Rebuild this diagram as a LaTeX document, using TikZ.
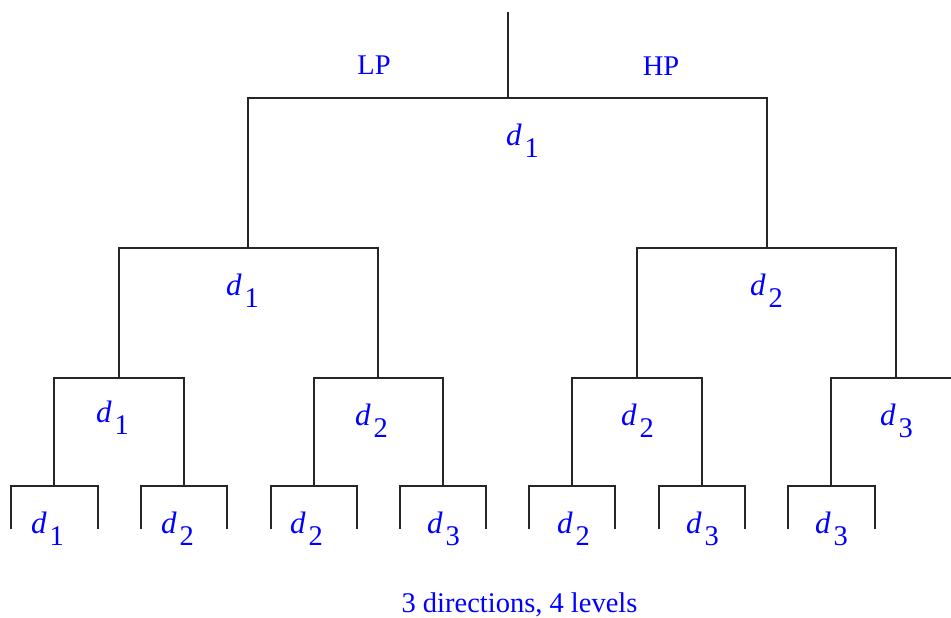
\documentclass[tikz,border=0pt]{standalone}
\usepackage{fontspec}
\setmainfont{Liberation Serif}
% d with a lowered subscript, as used for the direction labels
\newcommand{\dirlabel}[1]{{\fontsize{31}{34}\selectfont\itshape d}\kern3pt\raisebox{-12pt}{#1}}
\begin{document}
\begin{tikzpicture}[x=1pt,y=-1pt,
  branch/.style={draw=black!85, line width=1.1pt},
  txt/.style={text=blue, font=\fontsize{28.5}{32}\selectfont, inner sep=0pt},
  dlab/.style={txt, anchor=base west}]
\useasboundingbox (0,0) rectangle (951,618);

% junction points of the decomposition tree
\coordinate (top) at (508,12);
\coordinate (n0)  at (508,98);
\coordinate (nL)  at (248,248);
\coordinate (nR)  at (767,248);
\coordinate (nLL) at (119,378);
\coordinate (nLR) at (378,378);
\coordinate (nRL) at (637,378);
\coordinate (nRR) at (896,378);
\coordinate (m1) at (54,486);
\coordinate (m2) at (184,486);
\coordinate (m3) at (314,486);
\coordinate (m4) at (443,486);
\coordinate (m5) at (572,486);
\coordinate (m6) at (702,486);
\coordinate (m7) at (831,486);
\coordinate (edge) at (951,378);
% leaf ends
\coordinate (a1) at (11,529);  \coordinate (b1) at (98,529);
\coordinate (a2) at (141,529); \coordinate (b2) at (227,529);
\coordinate (a3) at (271,529); \coordinate (b3) at (357,529);
\coordinate (a4) at (400,529); \coordinate (b4) at (486,529);
\coordinate (a5) at (529,529); \coordinate (b5) at (615,529);
\coordinate (a6) at (659,529); \coordinate (b6) at (745,529);
\coordinate (a7) at (788,529); \coordinate (b7) at (875,529);

% branches
\draw[branch] (top) -- (n0);
\draw[branch] (nL) |- (n0) -| (nR);
\draw[branch] (nLL) |- (nL) -| (nLR);
\draw[branch] (nRL) |- (nR) -| (nRR);
\draw[branch] (m1) |- (nLL) -| (m2);
\draw[branch] (m3) |- (nLR) -| (m4);
\draw[branch] (m5) |- (nRL) -| (m6);
\draw[branch] (m7) |- (nRR) -- (edge);
\draw[branch] (a1) |- (m1) -| (b1);
\draw[branch] (a2) |- (m2) -| (b2);
\draw[branch] (a3) |- (m3) -| (b3);
\draw[branch] (a4) |- (m4) -| (b4);
\draw[branch] (a5) |- (m5) -| (b5);
\draw[branch] (a6) |- (m6) -| (b6);
\draw[branch] (a7) |- (m7) -| (b7);

% filter labels
\node[txt, anchor=base] (lp) at (374,75) {LP};
\node[txt, anchor=base] (hp) at (661,76) {HP};

% direction labels
\node[dlab] (d0)  at (506,145) {\dirlabel{1}};
\node[dlab] (dL)  at (226,295) {\dirlabel{1}};
\node[dlab] (dR)  at (750,295) {\dirlabel{2}};
\node[dlab] (dLL) at (96,422)  {\dirlabel{1}};
\node[dlab] (dLR) at (355,425) {\dirlabel{2}};
\node[dlab] (dRL) at (621,425) {\dirlabel{2}};
\node[dlab] (dRR) at (880,425) {\dirlabel{3}};
\node[dlab] (e1) at (31,533)  {\dirlabel{1}};
\node[dlab] (e2) at (161,533) {\dirlabel{2}};
\node[dlab] (e3) at (290,533) {\dirlabel{2}};
\node[dlab] (e4) at (427,533) {\dirlabel{3}};
\node[dlab] (e5) at (557,533) {\dirlabel{2}};
\node[dlab] (e6) at (686,533) {\dirlabel{3}};
\node[dlab] (e7) at (815,533) {\dirlabel{3}};

% caption
\node[txt, anchor=base] (cap) at (519.5,612) {3 directions, 4 levels};
\end{tikzpicture}
\end{document}
